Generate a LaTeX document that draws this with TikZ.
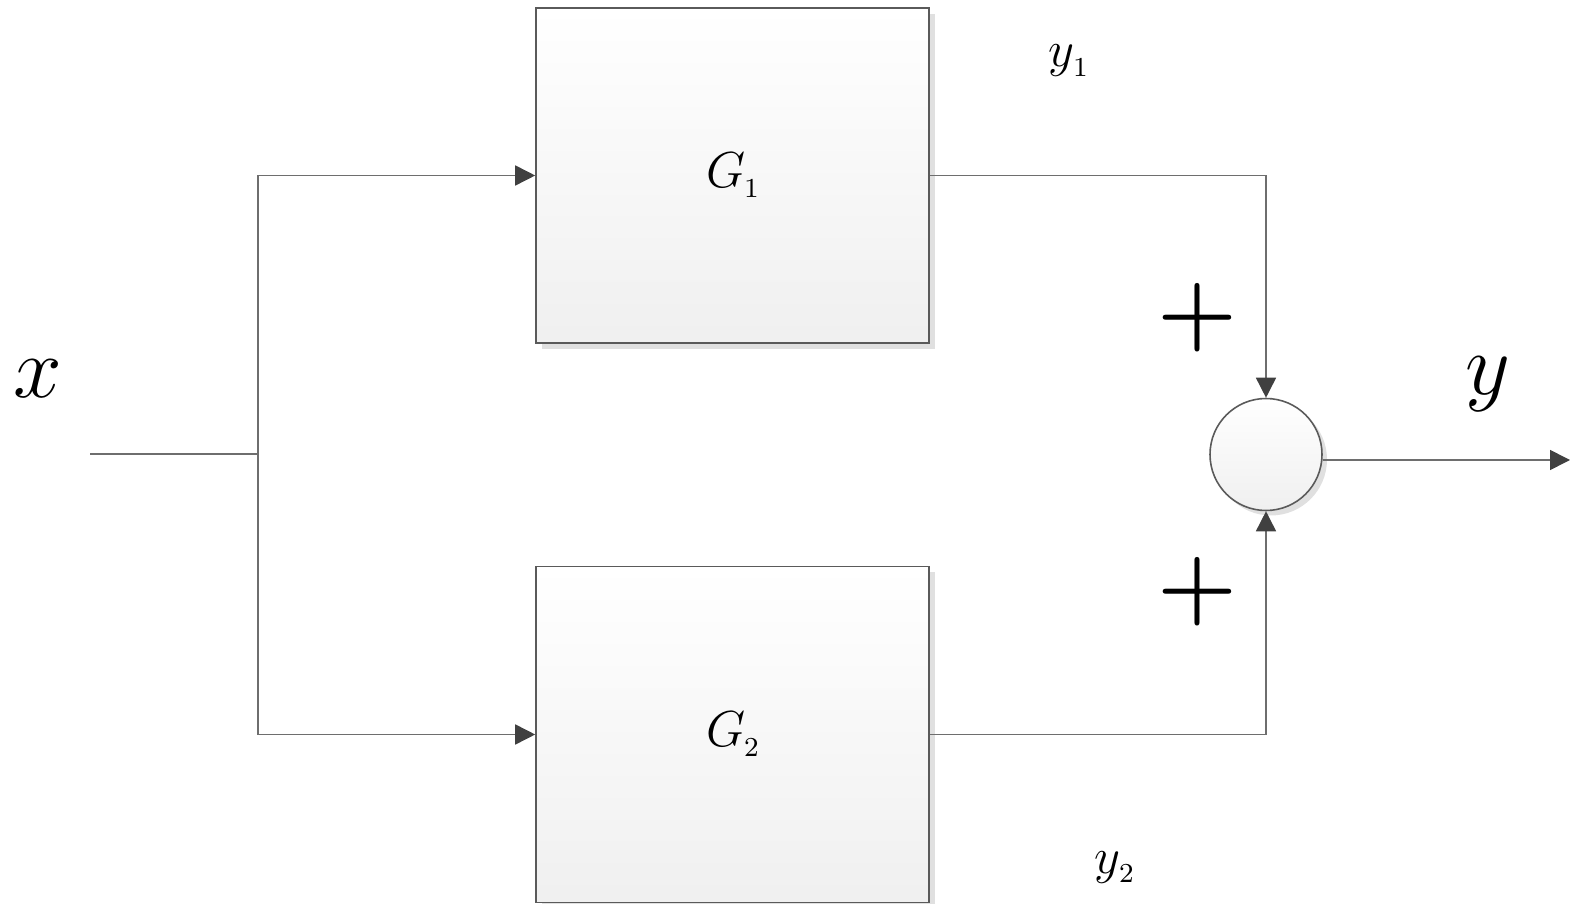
\documentclass[tikz,border=0pt]{standalone}
\usepackage{tikz}
\usetikzlibrary{arrows.meta, shadows, calc}
\definecolor{wire}{HTML}{6E6E6E}
\definecolor{edge}{HTML}{5A5A5A}
\definecolor{tipgray}{HTML}{404040}
\newcommand{\varsub}[2]{$#1$\kern-0.4pt\raisebox{-2.8pt}{\fontsize{7.8pt}{9pt}\selectfont #2}}

\begin{document}
\begin{tikzpicture}[x=1cm, y=-1cm,
    block/.style={draw=edge, line width=0.45pt, top color=white, bottom color=black!6,
        minimum width=3.93cm, inner sep=0pt,
        drop shadow={shadow xshift=0.06cm, shadow yshift=-0.06cm, fill=black!12, opacity=1},
        font=\fontsize{14.2pt}{17pt}\selectfont},
    sumnode/.style={circle, draw=edge, line width=0.45pt, top color=white, bottom color=black!6,
        minimum size=1.12cm, inner sep=0pt,
        drop shadow={shadow xshift=0.05cm, shadow yshift=-0.05cm, fill=black!12, opacity=1}},
    wirearrow/.style={draw=wire, line width=0.45pt, -{Triangle[length=2mm, width=2mm, color=tipgray]}},
    plain/.style={draw=wire, line width=0.45pt},
    sign/.style={font=\fontsize{26pt}{30pt}\selectfont\bfseries}]
    \useasboundingbox (0,0) rectangle (15.70,9.04);

    % Define the points
    \coordinate (in) at (0.90,4.54);
    \coordinate (split) at (2.58,4.54);
    \coordinate (out) at (15.70,4.60);

    % Blocks and summing point
    \node[block, minimum height=3.35cm] (G1) at (7.325,1.755) {\varsub{G}{1}};
    \node[block, minimum height=3.36cm] (G2) at (7.325,7.345) {\varsub{G}{2}};
    \node[sumnode] (sum) at (12.66,4.545) {};

    % Draw the connections
    \draw[plain] (in) -- (split);
    \draw[wirearrow] (split) |- (G1.west);
    \draw[wirearrow] (split) |- (G2.west);
    \draw[wirearrow] (G1.east) -| (sum.north);
    \draw[wirearrow] (G2.east) -| (sum.south);
    \draw[wirearrow] (sum.east |- out) -- (out);

    % Label the signals
    \node[anchor=base, font=\fontsize{25pt}{29pt}\selectfont] (xlabel) at (0.38,3.98) {$x$};
    \node[anchor=base, font=\fontsize{25pt}{29pt}\selectfont] (ylabel) at (14.88,3.95) {$y$};
    \node[anchor=base, font=\fontsize{13.5pt}{16pt}\selectfont] (y1label) at (10.68,0.67) {\varsub{y}{1}};
    \node[anchor=base, font=\fontsize{13.5pt}{16pt}\selectfont] (y2label) at (11.14,8.73) {\varsub{y}{2}};

    % Signs at the summing point
    \node[sign] (plustop) at (11.97,3.18) {+};
    \node[sign] (plusbot) at (11.97,5.92) {+};
\end{tikzpicture}
\end{document}
